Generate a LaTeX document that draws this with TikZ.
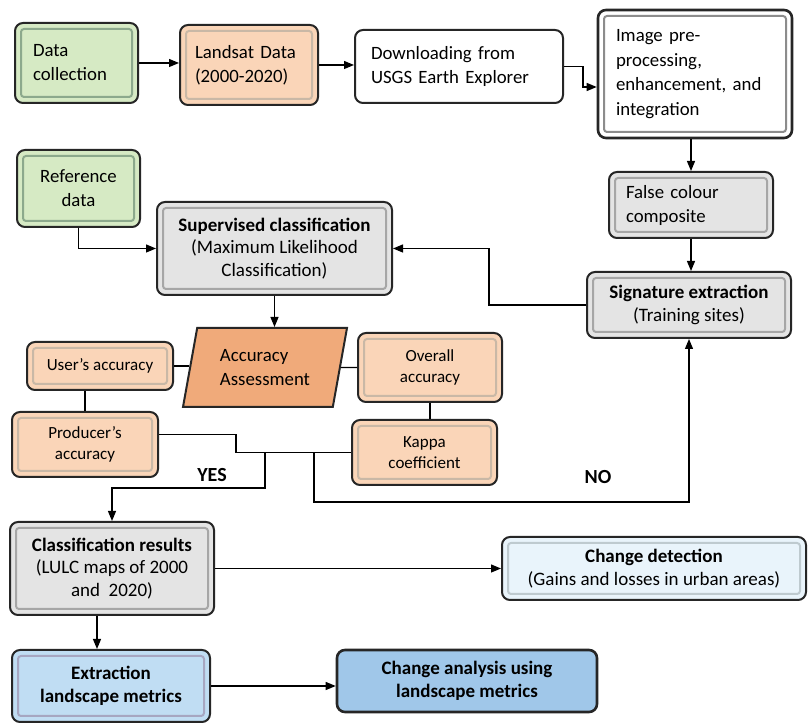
\documentclass[tikz,border=0pt]{standalone}
\usepackage{fontspec}
\setmainfont{Carlito}
\usetikzlibrary{arrows.meta, positioning, shapes.geometric}
\definecolor{greenfill}{RGB}{214,234,196}
\definecolor{peachfill}{RGB}{250,213,184}
\definecolor{accfill}{RGB}{240,170,122}
\definecolor{grayfill}{RGB}{228,228,228}
\definecolor{cdfill}{RGB}{233,244,251}
\definecolor{exfill}{RGB}{192,221,243}
\definecolor{cafill}{RGB}{160,199,233}

\begin{document}
\begin{tikzpicture}[x=0.5pt, y=-0.5pt,
    box/.style={rectangle, rounded corners=4pt, draw=black!85,
                line width=1pt, align=center, inner sep=2pt},
    bevel/.style={path picture={\draw[#1, line width=1pt, rounded corners=1.5pt]
        ([shift={(3pt,-3pt)}]path picture bounding box.north west) rectangle
        ([shift={(-3pt,3pt)}]path picture bounding box.south east);}},
    bevel/.default=black!30,
    greenbox/.style={box, bevel=green!25!black!45, fill=greenfill},
    peachbox/.style={box, bevel=orange!40!black!35, fill=peachfill},
    graybox/.style={box, bevel=black!35, fill=grayfill},
    big/.style={font=\fontsize{9.4}{12}\selectfont},
    mid/.style={font=\fontsize{9.5}{11.25}\selectfont},
    small/.style={font=\fontsize{8.5}{10.25}\selectfont},
    arr/.style={-{Triangle[length=5pt, width=4pt]}, line width=0.6pt},
    link/.style={line width=0.6pt},
    lbl/.style={font=\fontsize{10}{12}\selectfont\bfseries},
]
  \useasboundingbox[fill=white] (0,0) rectangle (809,726);

  % ---- data input ----
  \node[greenbox, big, align=left, text width=43.5pt, inner xsep=9pt,
        minimum height=40pt] (datacol) at (76.5,63) {Data\\collection};
  \node[peachbox, big, align=left, text width=54pt, inner xsep=7.5pt,
        minimum height=40pt] (landsat) at (249,65) {Landsat~Data\\(2000-2020)};
  \node[box, big, align=left, fill=white, text width=88pt, inner xsep=8pt,
        minimum height=36.5pt] (download) at (459,66.5)
        {Downloading~from\\USGS~Earth~Explorer};
  \node[box, bevel=black!45, big, align=left, fill=white, line width=1.3pt,
        text width=79pt, inner xsep=9pt, minimum height=64pt,
        font=\fontsize{9.4}{12.4}\selectfont] (imgproc)
        at (695,74) {Image pre-\\processing,\\enhancement,~and\\integration};
  \node[graybox, big, align=left, text width=65pt, inner xsep=8.5pt,
        minimum height=33pt] (falsecol) at (691,205) {False colour\\composite};
  \node[graybox, mid, minimum width=102pt, minimum height=33pt] (sigext)
        at (689,305) {\textbf{Signature extraction}\\(Training sites)};
  \node[greenbox, big, minimum width=61.5pt, minimum height=38.5pt] (refdata)
        at (78.5,188.5) {Reference\\data};

  % ---- classification ----
  \node[graybox, mid, minimum width=117.5pt, minimum height=46.5pt] (supclass)
        at (274.5,248.5)
        {\textbf{Supervised classification}\\(Maximum Likelihood\\Classification)};

  % ---- accuracy assessment ----
  \node[trapezium, trapezium left angle=74, trapezium right angle=106,
        trapezium stretches body, fill=accfill, draw=black!85, line width=1pt,
        big, align=left, minimum width=82pt, minimum height=39.5pt] (accass)
        at (265,367.5) {Accuracy\\Assessment};
  \node[peachbox, small, minimum width=73pt, minimum height=24pt] (useracc)
        at (100,366) {User’s accuracy};
  \node[peachbox, small, minimum width=72pt, minimum height=34.5pt] (overacc)
        at (430,367.5) {Overall\\accuracy};
  \node[peachbox, small, minimum width=73pt, minimum height=32.5pt] (prodacc)
        at (85,444.5) {Producer’s\\accuracy};
  \node[peachbox, small, minimum width=72.5pt, minimum height=32.5pt] (kappa)
        at (424.5,452.5) {Kappa\\coefficient};

  % ---- results ----
  \node[graybox, mid, minimum width=102pt, minimum height=46.5pt] (classres)
        at (112,568.5)
        {\textbf{Classification results}\\(LULC maps of 2000\\and~~2020)};
  \node[box, bevel=cyan!30!black!30, fill=cdfill, mid, minimum width=152pt,
        minimum height=31.5pt] (changedet) at (654,568.5)
        {\textbf{Change detection}\\(Gains and losses in urban areas)};
  \node[box, bevel=blue!30!black!35, fill=exfill, mid, minimum width=99pt,
        minimum height=36pt] (extract) at (111,686)
        {\textbf{Extraction}\\\textbf{landscape metrics}};
  \node[box, fill=cafill, mid, line width=1.3pt, minimum width=130pt,
        minimum height=31pt] (changean) at (467,681)
        {\textbf{Change analysis using}\\\textbf{landscape metrics}};

  % ---- connectors ----
  \draw[arr] (datacol.east) -- (datacol.east -| landsat.west);
  \draw[arr] (landsat.east) -- (landsat.east -| download.west);
  \draw[arr] (download.east) -- ++(19,0) |- ([yshift=-6.5pt]imgproc.west);
  \draw[arr] (imgproc.south -| falsecol.north) -- (falsecol.north);
  \draw[arr] (falsecol.south) -- (falsecol.south |- sigext.north);
  \draw[arr] (sigext.west) -- ++(-97,0) |- (supclass.east);
  \draw[arr] (refdata.south) |- (supclass.west);
  \draw[arr] (supclass.south) -- (supclass.south |- accass.north);

  \draw[link] (useracc.east) -- (useracc.east -| accass.west);
  \draw[link] (accass.east) -- (overacc.west);
  \draw[link] (prodacc.north |- useracc.south) -- (prodacc.north);
  \draw[link] (overacc.south) -- (overacc.south |- kappa.north);

  \coordinate (bend) at (236,452.5);
  \coordinate (yesfork) at (265,452.5);
  \coordinate (nofork) at (314,452.5);
  \draw[link] ([yshift=5pt]prodacc.east) -| (bend) -- (kappa.west);
  \draw[arr] (yesfork) -- ++(0,35.5) -| (classres.north);
  \draw[arr] (nofork) -- ++(0,49.5) -| (sigext.south);
  \node[lbl] (yes) at (212,475) {YES};
  \node[lbl] (no) at (598,477) {NO};

  \draw[arr] (classres.east) -- (changedet.west);
  \draw[arr] ([xshift=-7.5pt]classres.south)
             -- ([xshift=-7.5pt]classres.south |- extract.north);
  \draw[arr] (extract.east) -- (extract.east -| changean.west);
\end{tikzpicture}
\end{document}
